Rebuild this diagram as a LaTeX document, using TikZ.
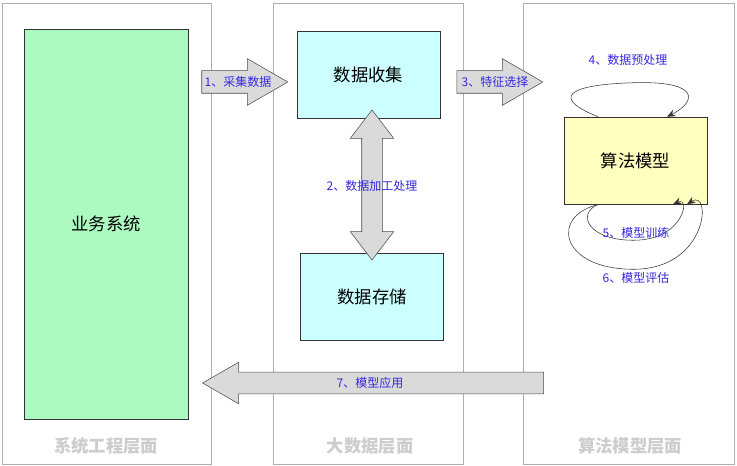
\documentclass[tikz,border=0pt]{standalone}
\usepackage{fontspec}
\setmainfont{Noto Sans CJK SC}
\usetikzlibrary{arrows.meta, shapes.arrows, calc}

\definecolor{lanegray}{RGB}{175,175,175}
\definecolor{titlegray}{RGB}{205,205,205}
\definecolor{bizgreen}{RGB}{172,250,192}
\definecolor{datacyan}{RGB}{204,255,255}
\definecolor{algoyellow}{RGB}{255,255,192}
\definecolor{arrfill}{RGB}{218,218,218}
\definecolor{stepblue}{RGB}{55,40,225}

\begin{document}
\begin{tikzpicture}[
                x=0.75pt, y=-0.75pt,
                font=\fontsize{13pt}{15pt}\selectfont,
                lane/.style={
                        draw=lanegray, fill=white,
                        minimum height=345.75pt,
                        inner sep=0pt
                    },
                lanetitle/.style={
                        text=titlegray,
                        font=\fontsize{13pt}{15pt}\selectfont\bfseries
                    },
                block/.style={
                        draw=black!80, thin,
                        minimum width=107.25pt,
                        minimum height=65.25pt
                    },
                bigarrow/.style={
                        single arrow, draw=black!70, fill=arrfill,
                        inner sep=8.25pt, single arrow tip angle=60
                    },
                steplabel/.style={
                        text=stepblue, inner sep=1pt,
                        font=\fontsize{9pt}{11pt}\selectfont
                    },
                loop/.style={-{Stealth[length=2.2mm, width=1.8mm]}, black!80, thin},
                ]

                \useasboundingbox[fill=white] (0,0) rectangle (737,466);

                % three layers
                \node[lane, minimum width=156.75pt] (lanesys) at (106.5,233.5) {};
                \node[lane, minimum width=142.5pt] (lanedata) at (368,233.5) {};
                \node[lane, minimum width=158.25pt] (lanealgo) at (628.5,233.5) {};

                \node[lanetitle] (tsys) at (106,446) {系统工程层面};
                \node[lanetitle] (tdata) at (370,446) {大数据层面};
                \node[lanetitle] (talgo) at (630,446) {算法模型层面};

                % boxes
                \node[block, fill=bizgreen, minimum width=123pt, minimum height=292.5pt] (biz) at (106,224) {业务系统};
                \node[block, fill=datacyan] (collect) at (368.5,74.5) {数据收集};
                \node[block, fill=datacyan] (store) at (372,296.5) {数据存储};
                \node[block, fill=algoyellow] (model) at (635.5,160.5) {算法模型};

                % block arrows
                \node[bigarrow, minimum height=64.5pt, minimum width=34.5pt, single arrow head extend=9pt] (a1) at (235,82) {};
                \node[bigarrow, minimum height=64.5pt, minimum width=34.5pt, single arrow head extend=9pt] (a3) at (490,82) {};
                \node[bigarrow, inner sep=7.9pt, minimum height=255.75pt, minimum width=30.75pt, single arrow head extend=7.5pt, shape border rotate=180] (a7) at (382.5,383) {};
                \node[double arrow, draw=black!70, fill=arrfill, inner sep=7.5pt, double arrow tip angle=75,
                      minimum height=112.5pt, minimum width=32.25pt, double arrow head extend=8.6pt,
                      shape border rotate=90] (a2) at (372,185) {};

                \node[steplabel] (l1) at (238,82) {1、采集数据};
                \node[steplabel] (l3) at (495,82) {3、特征选择};
                \node[steplabel] (l2) at (372,186) {2、数据加工处理};
                \node[steplabel] (l7) at (370,383) {7、模型应用};

                % loops on the model
                \draw[loop] ($(model.north)+(-37.5,0)$) .. controls +(-45,-18) and +(-70,2) .. ($(model.north)+(-2,-34)$)
                        .. controls +(70,-2) and +(28,-14) .. ($(model.north)+(31.5,0)$);
                \draw[loop] ($(model.south)+(-37.5,0)$) .. controls +(-22,10) and +(-45,0) .. ($(model.south)+(-2,36)$)
                        .. controls +(50,0) and +(18,-8) .. ($(model.south)+(37.5,0)$);
                \draw[loop] ($(model.south)+(-35.5,0)$) .. controls +(-50,10) and +(-75,0) .. ($(model.south)+(-2,65)$)
                        .. controls +(75,0) and +(25,-16) .. ($(model.south)+(51.5,0)$);

                \node[steplabel] (l4) at (628,60) {4、数据预处理};
                \node[steplabel] (l5) at (636,233) {5、模型训练};
                \node[steplabel] (l6) at (636,278) {6、模型评估};
            \end{tikzpicture}
\end{document}
